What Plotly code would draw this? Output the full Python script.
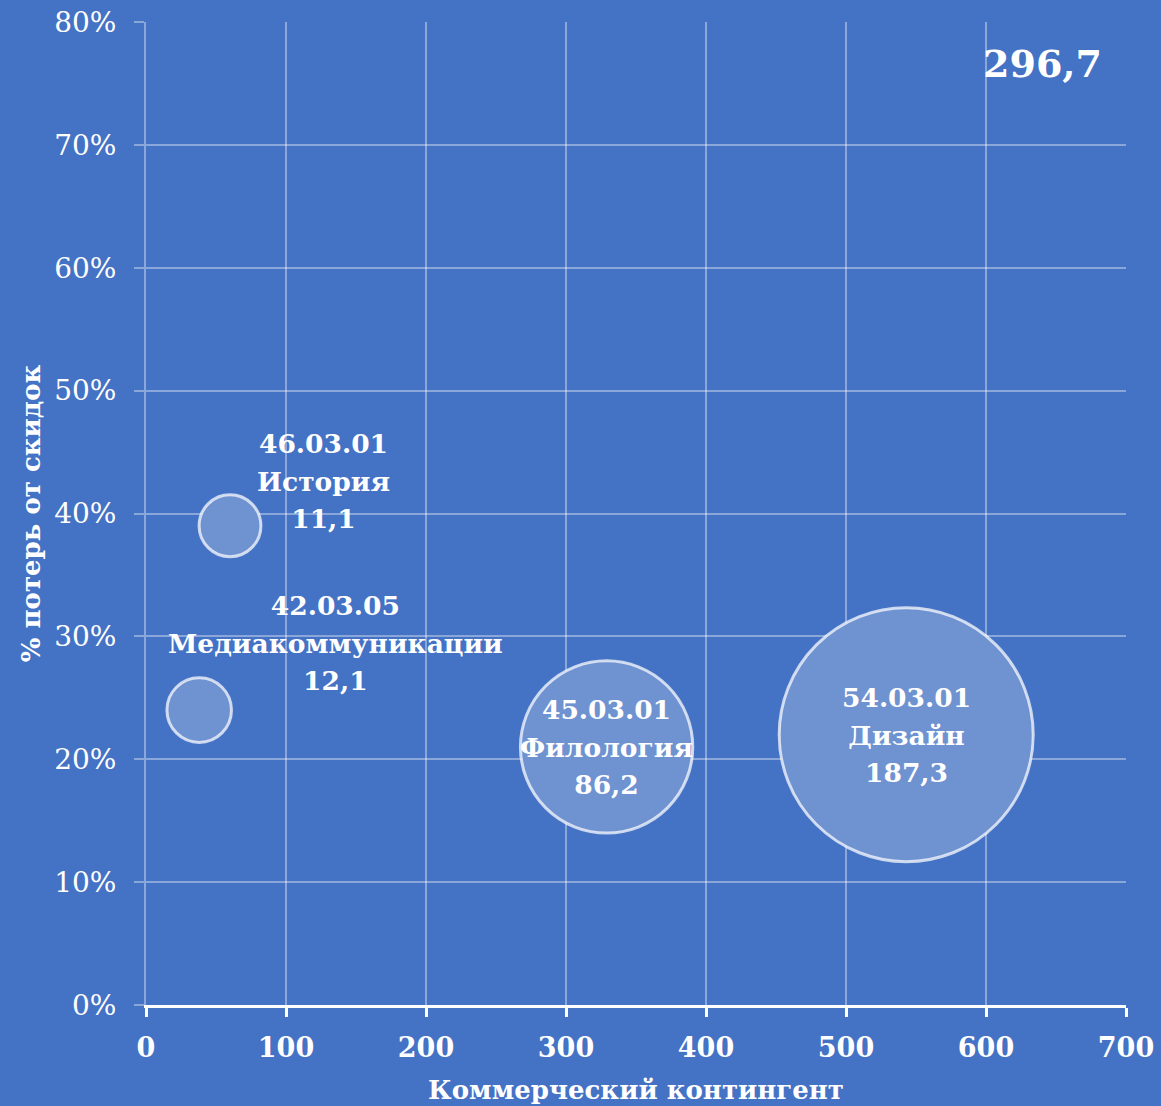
import plotly.graph_objects as go

# bubble chart data
codes = ["46.03.01", "42.03.05", "45.03.01", "54.03.01"]
names = ["История", "Медиакоммуникации", "Филология", "Дизайн"]
contingent = [60, 38, 329, 543]          # x
loss_share = [0.39, 0.24, 0.21, 0.22]    # y
volume = [11.1, 12.1, 86.2, 187.3]       # bubble size
x_ticks = [0, 100, 200, 300, 400, 500, 600, 700]

BG = "#4472C4"
GRID = "rgba(255,255,255,0.38)"
FONT = "DejaVu Serif"

# label offsets in pixels (labels were moved by hand in the original)
label_shift = [(93, 45), (136, 67), (0, 0), (0, 0)]


def fmt(v):
    return f"{v:.1f}".replace(".", ",")


max_diam = 254
fig = go.Figure(go.Scatter(
    x=contingent, y=loss_share, mode="markers",
    marker=dict(
        size=volume, sizemode="area",
        sizeref=2.0 * max(volume) / max_diam ** 2,
        color="#6F92D1",
        line=dict(color="rgba(255,255,255,0.72)", width=3),
        opacity=1,
    ),
    hoverinfo="skip",
))

for code, name, x, y, v, (dx, dy) in zip(codes, names, contingent, loss_share, volume, label_shift):
    # big annotation font gives the wider line spacing, the span keeps glyphs smaller
    fig.add_annotation(
        x=x, y=y, xshift=dx, yshift=dy, showarrow=False,
        text="<br>".join(f"<span style='font-size:26.5px'><b>{s}</b></span>"
                         for s in (code, name, fmt(v))),
        font=dict(family=FONT, size=29, color="white"),
        align="center",
    )

# total in the top right corner
fig.add_annotation(
    xref="paper", yref="paper", x=0.978, y=0.958, xanchor="right", yanchor="middle",
    showarrow=False, text=f"<b>{fmt(sum(volume))}</b>",
    font=dict(family=FONT, size=38, color="white"),
)

fig.update_xaxes(
    range=[0, 700], tickvals=x_ticks, ticktext=[f"<b>{t}</b>" for t in x_ticks],
    showgrid=True, gridcolor=GRID, gridwidth=1.5,
    zeroline=False, showline=True, linecolor="white", linewidth=3,
    ticks="outside", ticklen=9, tickwidth=3, tickcolor="white",
    ticklabelstandoff=8,
    tickfont=dict(family=FONT, size=27, color="white"),
    title=dict(text="<b>Коммерческий контингент</b>", standoff=19,
               font=dict(family=FONT, size=26, color="white")),
)
fig.update_yaxes(
    range=[0, 0.8], dtick=0.1, tickformat=".0%", showgrid=True, gridcolor=GRID, gridwidth=1.5,
    zeroline=False, showline=True, linecolor=GRID, linewidth=2,
    ticks="outside", ticklen=10, tickwidth=2, tickcolor=GRID,
    ticklabelstandoff=12,
    tickfont=dict(family=FONT, size=28, color="white"),
    title=dict(text="<b>% потерь от скидок</b>", standoff=6,
               font=dict(family=FONT, size=26, color="white")),
)

fig.update_layout(
    width=1161, height=1106,
    paper_bgcolor=BG, plot_bgcolor=BG,
    margin=dict(l=146, r=35, t=22, b=101, autoexpand=False),
    showlegend=False,
)

# drop the default page margin so the chart fills the window
fig.write_html(
    "out.html",
    config={"displayModeBar": False},
    post_script="document.body.style.margin='0';document.body.style.overflow='hidden';"
                "document.body.style.background='#4472C4';",
)
